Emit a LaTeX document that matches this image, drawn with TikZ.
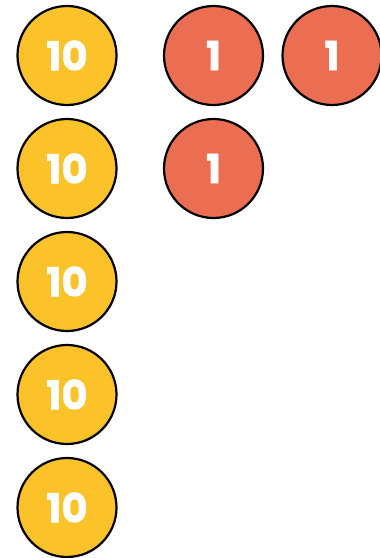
\documentclass[tikz,border=0pt]{standalone}
\usepackage{fontspec}
\setmainfont{Poppins}[BoldFeatures={FakeBold=1.5}]
\definecolor{tenyellow}{HTML}{FBC22A}
\definecolor{onered}{HTML}{EC6E52}
\begin{document}
\begin{tikzpicture}[x=1pt,y=-1pt,
  coin/.style={circle,draw=black,line width=2.2pt,minimum size=99pt,inner sep=0pt,text=white,font=\fontsize{40}{40}\selectfont\bfseries},
  ten/.style={coin,fill=tenyellow},
  one/.style={coin,fill=onered}]
\useasboundingbox (0,0) rectangle (380,558);
\begin{scope}
\clip (0,0) rectangle (380,558);
\node[ten] (t1) at (67,55.5) {10};
\node[ten] (t2) at (67,168.5) {10};
\node[ten] (t3) at (67,281.5) {10};
\node[ten] (t4) at (67,394.5) {10};
\node[ten] (t5) at (67,507.5) {10};
\node[one] (o1) at (213.5,55.5) {1};
\node[one] (o2) at (332,55.5) {1};
\node[one] (o3) at (213.5,168.5) {1};
\end{scope}
\end{tikzpicture}
\end{document}
